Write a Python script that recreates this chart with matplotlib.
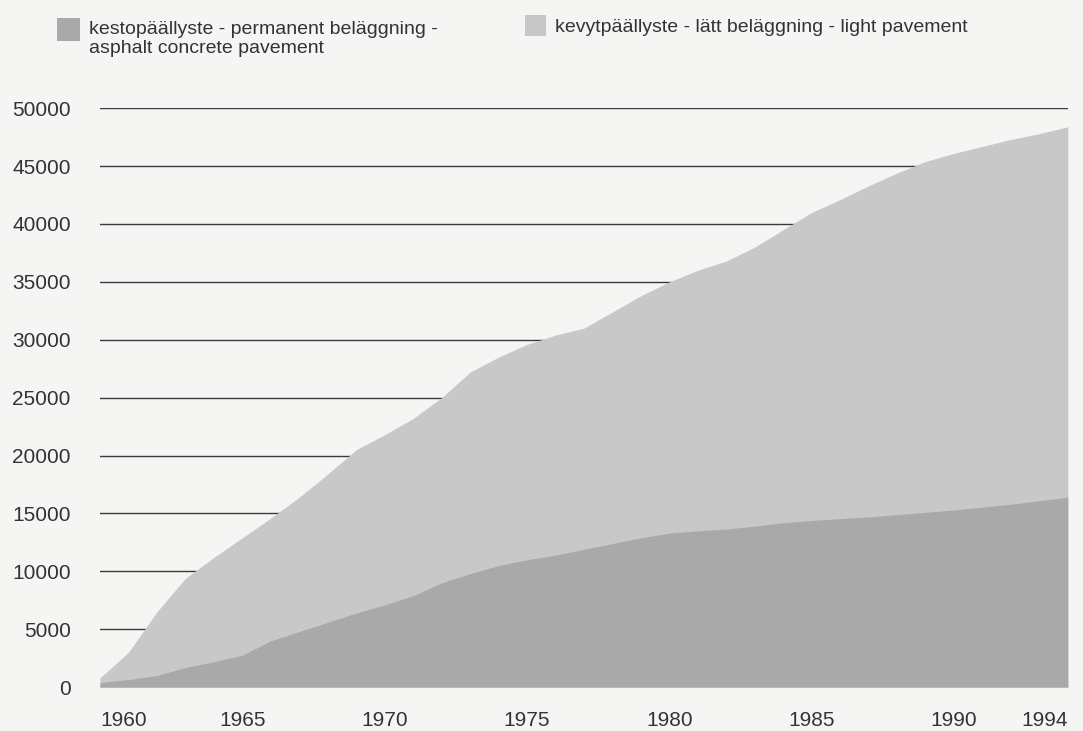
import numpy as np
import matplotlib
matplotlib.use('Agg')
import matplotlib.pyplot as plt
from matplotlib.patches import Rectangle

# ---------------------------------------------------------------------------
# Data (km of paved road)
# ---------------------------------------------------------------------------
years = list(range(1960, 1995))

# kestopäällyste - permanent beläggning - asphalt concrete pavement
asphalt = [400, 650, 1000, 1700, 2200, 2750, 4000, 4800, 5600, 6400,
           7100, 7900, 9000, 9800, 10500, 11000, 11400, 11900, 12400, 12900,
           13300, 13500, 13650, 13900, 14200, 14400, 14550, 14700, 14900, 15100,
           15300, 15550, 15800, 16100, 16400]

# total incl. kevytpäällyste - lätt beläggning - light pavement
total = [800, 3000, 6500, 9400, 11200, 12900, 14600, 16400, 18400, 20500,
         21800, 23200, 25000, 27200, 28500, 29600, 30400, 31000, 32400, 33800,
         35000, 36000, 36800, 38000, 39500, 41000, 42100, 43300, 44400, 45400,
         46100, 46700, 47300, 47800, 48400]

xticks = [1960, 1965, 1970, 1975, 1980, 1985, 1990, 1994]
yticks = list(range(0, 50001, 5000))

label_asphalt = 'kestopäällyste - permanent beläggning -\nasphalt concrete pavement'
label_light = 'kevytpäällyste - lätt beläggning - light pavement'

DARK = '#a9a9a9'
LIGHT = '#c8c8c8'
BG = '#f5f5f4'
TXT = '#333333'

plt.rcParams['font.family'] = ['Liberation Sans', 'DejaVu Sans']

# ---------------------------------------------------------------------------
# Plot
# ---------------------------------------------------------------------------
fig = plt.figure(figsize=(10.83, 7.31), dpi=100, facecolor=BG)
ax = fig.add_axes([0.0923, 0.060, 0.8937, 0.792])
ax.set_facecolor(BG)

x = np.array(years)
ax.fill_between(x, 0, total, color=LIGHT, lw=0, zorder=2)
ax.fill_between(x, 0, asphalt, color=DARK, lw=0, zorder=3)

ax.set_xlim(1960, 1994)
ax.set_ylim(0, 50000)
ax.set_yticks(yticks)
ax.set_xticks(xticks)
ax.set_yticklabels([str(v) for v in yticks])
ax.set_xticklabels([str(v) for v in xticks])
ax.tick_params(axis='both', length=0, labelsize=15, labelcolor=TXT)
ax.tick_params(axis='y', pad=21)
ax.tick_params(axis='x', pad=17)
xl = ax.get_xticklabels()
xl[0].set_ha('left')
xl[-1].set_ha('right')

ax.yaxis.grid(True, color='#3a3a3a', lw=1.0, zorder=1)
ax.set_axisbelow(True)
for s in ax.spines.values():
    s.set_visible(False)

# legend drawn by hand to match the original layout
W, H = 1083.0, 731.0
fig.add_artist(Rectangle((57 / W, 1 - 41 / H), 23 / W, 23 / H,
                         transform=fig.transFigure, color=DARK, lw=0))
fig.text(89 / W, 1 - 21 / H, label_asphalt, fontsize=14, color=TXT,
         ha='left', va='top', linespacing=1.15)
fig.add_artist(Rectangle((525 / W, 1 - 36 / H), 21 / W, 21 / H,
                         transform=fig.transFigure, color=LIGHT, lw=0))
fig.text(555 / W, 1 - 19 / H, label_light, fontsize=14, color=TXT,
         ha='left', va='top')

fig.savefig('out.png', dpi=100, facecolor=BG)
plt.close(fig)
